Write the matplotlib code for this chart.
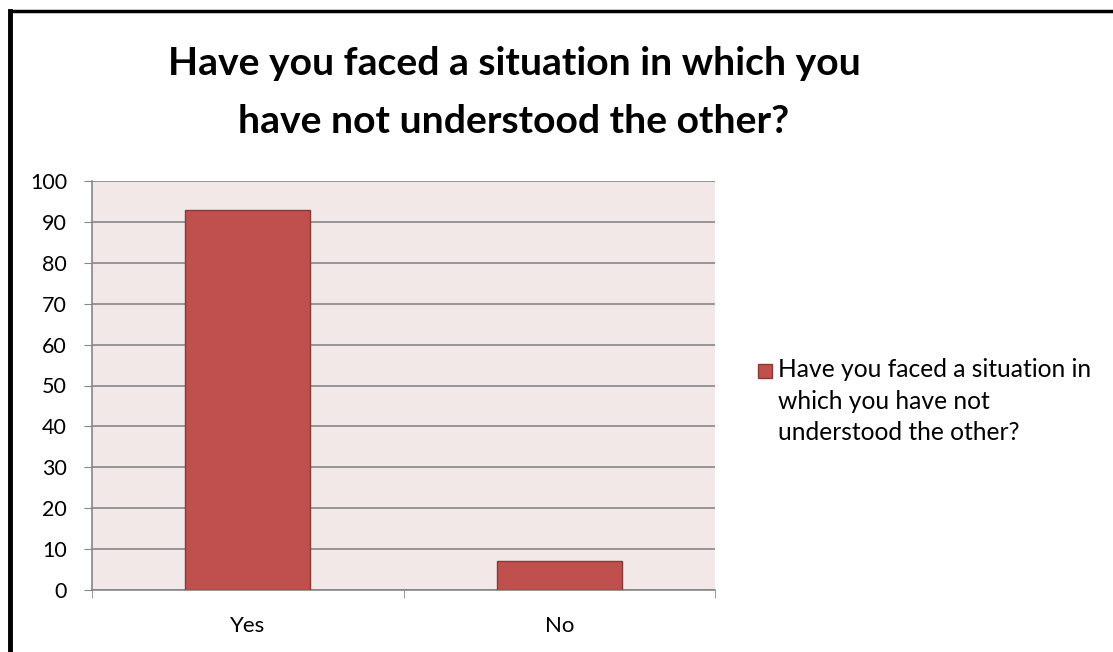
import matplotlib.pyplot as plt
from matplotlib.lines import Line2D
from matplotlib.patches import Rectangle

# survey answers
categories = ["Yes", "No"]
values = [93, 7]
series_name = "Have you faced a situation in\nwhich you have not\nunderstood the other?"
title_lines = ["Have you faced a situation in which you", "have not understood the other?"]
y_ticks = [0, 10, 20, 30, 40, 50, 60, 70, 80, 90, 100]

bar_color = "#C0504D"
bar_edge = "#8C3836"

W, H = 1113, 652
plt.rcParams['font.family'] = ['Lato', 'DejaVu Sans']

fig = plt.figure(figsize=(W / 100, H / 100), dpi=100)
fig.patch.set_facecolor("white")

# plot area in pixel coords
x0, x1, y_top, y_bot = 92, 715, 181, 590
ax = fig.add_axes([x0 / W, (H - y_bot) / H, (x1 - x0) / W, (y_bot - y_top) / H])
ax.set_facecolor("#F2E8E8")

xpos = range(len(categories))
ax.bar(xpos, values, width=0.4, color=bar_color, edgecolor=bar_edge, linewidth=1,
       zorder=3, label=series_name)

ax.set_xlim(-0.5, len(categories) - 0.5)
ax.set_ylim(0, 100)
ax.set_yticks(y_ticks)
ax.set_yticklabels([str(t) for t in y_ticks], fontsize=15.5)
ax.set_xticks(list(xpos))
ax.set_xticklabels(categories, fontsize=16)
ax.tick_params(axis="x", length=0, pad=19)
ax.tick_params(axis="y", length=6, color="#878787", pad=12)
# category boundary ticks on the x axis
ax.set_xticks([-0.5, 0.5, 1.5], minor=True)
ax.tick_params(axis="x", which="minor", length=6, color="#878787")

ax.grid(axis="y", color="#878787", linewidth=1.2, zorder=1)
for s in ["top", "right"]:
    ax.spines[s].set_visible(False)
for s in ["left", "bottom"]:
    ax.spines[s].set_color("#878787")
    ax.spines[s].set_linewidth(1.2)

# two-line title, baselines placed separately
for line, base_y in zip(title_lines, [75, 133]):
    fig.text(514 / W, 1 - base_y / H, line, ha="center", va="baseline",
             fontsize=28.2, fontweight="bold")

# legend: swatch sits beside the first line of the wrapped label
fig.add_artist(Rectangle((758 / W, 1 - 378 / H), 14 / W, 14 / H, transform=fig.transFigure,
                         facecolor=bar_color, edgecolor=bar_edge, linewidth=1))
fig.text(778 / W, 1 - 358 / H, series_name, ha="left", va="top",
         fontsize=17.7, linespacing=1.45)

# outer frame (top and left edges)
fig.add_artist(Line2D([9.5 / W, 1], [1 - 10.5 / H] * 2, transform=fig.transFigure,
                      color="black", linewidth=2.5))
fig.add_artist(Line2D([9.5 / W] * 2, [0, 1 - 10.5 / H], transform=fig.transFigure,
                      color="black", linewidth=3.5))

fig.savefig("out.png", dpi=100, facecolor="white")
